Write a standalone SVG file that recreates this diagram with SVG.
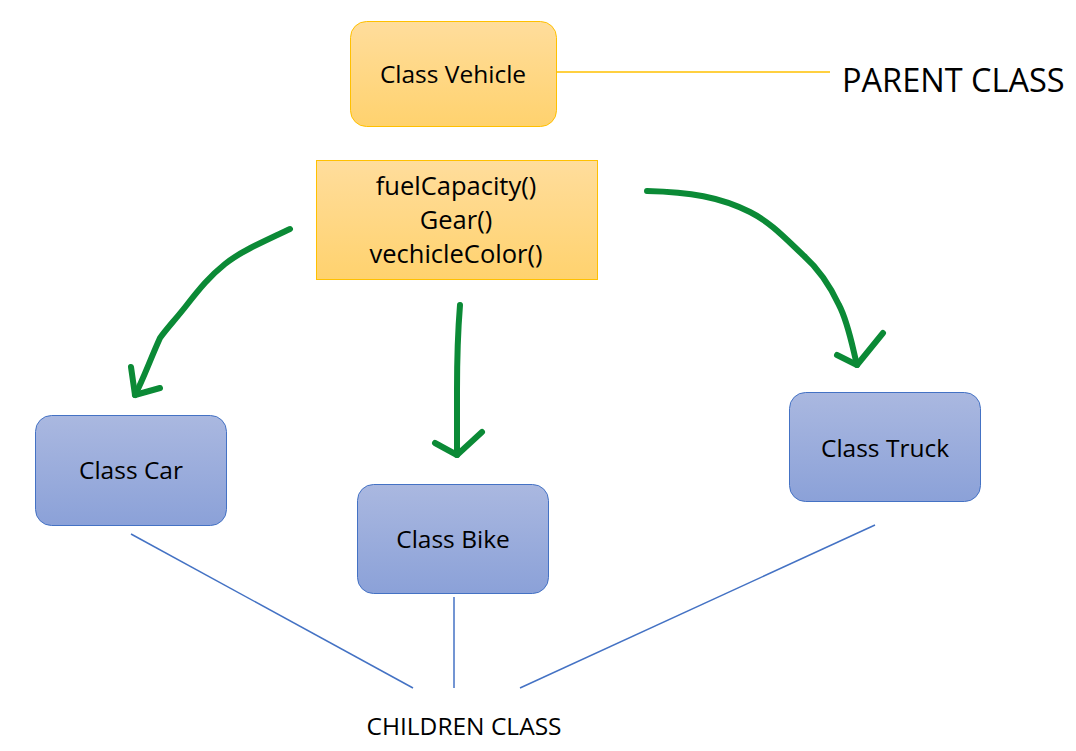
<svg xmlns="http://www.w3.org/2000/svg" width="1076" height="751" viewBox="0 0 1076 751">
<defs>
<linearGradient id="gOrange" x1="0" y1="0" x2="0" y2="1">
<stop offset="0" stop-color="#FFDD9C"/>
<stop offset="1" stop-color="#FFD26E"/>
</linearGradient>
<linearGradient id="gBlue" x1="0" y1="0" x2="0" y2="1">
<stop offset="0" stop-color="#AAB8E0"/>
<stop offset="1" stop-color="#8BA1D8"/>
</linearGradient>
<style>
.orange{fill:url(#gOrange);stroke:#FFC000;stroke-width:1}
.blue{fill:url(#gBlue);stroke:#4472C4;stroke-width:1}
.t{font-family:"Open Sans","Liberation Sans",sans-serif;font-size:24.5px;fill:#000;text-anchor:middle}
.m{font-size:25.5px}
.big{font-family:"Open Sans","Liberation Sans",sans-serif;font-size:32.5px;fill:#000}
.green{fill:none;stroke:#0B8A36;stroke-width:6;stroke-linecap:round;stroke-linejoin:round}
.bl{stroke:#4472C4;stroke-width:1.5;fill:none}
</style>
</defs>
<rect width="1076" height="751" fill="#fff"/>
<g id="vehicle">
<rect class="orange" x="350.5" y="21.5" width="206" height="105" rx="16"/>
<text class="t" x="453" y="83">Class Vehicle</text>
</g>
<g id="methods">
<rect class="orange" x="316.5" y="160.5" width="281" height="119"/>
<text class="t m" x="456" y="195">fuelCapacity()</text>
<text class="t m" x="456" y="229">Gear()</text>
<text class="t m" x="456" y="263">vechicleColor()</text>
</g>
<g id="parent-label">
<text class="big" x="842" y="92">PARENT CLASS</text>
</g>
<g id="car">
<rect class="blue" x="35.5" y="415.5" width="191" height="110" rx="16"/>
<text class="t" x="131" y="479">Class Car</text>
</g>
<g id="bike">
<rect class="blue" x="357.5" y="484.5" width="191" height="109" rx="16"/>
<text class="t" x="453" y="548">Class Bike</text>
</g>
<g id="truck">
<rect class="blue" x="789.5" y="392.5" width="191" height="109" rx="16"/>
<text class="t" x="885" y="457">Class Truck</text>
</g>
<g id="children-label">
<text class="t" x="464" y="735">CHILDREN CLASS</text>
</g>
<g id="connectors">
<line x1="556" y1="72" x2="830" y2="72" stroke="#FFC000" stroke-width="1.5"/>
<line class="bl" x1="131" y1="534" x2="413" y2="688"/>
<line class="bl" x1="454" y1="597" x2="454" y2="688"/>
<line class="bl" x1="875" y1="525" x2="520" y2="688"/>
<path class="green" d="M290,229 C260,243 240,252 225,264 C210,276 200,288 186,306 C175,320 168,327 160,338 C150,360 143,380 135,395"/>
<path class="green" d="M131,367 L135,395 L160,388"/>
<path class="green" d="M460,305 C458,330 457,360 457,390 L457,455"/>
<path class="green" d="M435,443 L457,455 L482,432"/>
<path class="green" d="M647,191 C690,192 720,197 750,212 C770,222 785,238 803,255 C820,270 832,290 839,305 C848,322 852,345 857,365"/>
<path class="green" d="M837,355 L857,365 L883,333"/>
</g>
</svg>
